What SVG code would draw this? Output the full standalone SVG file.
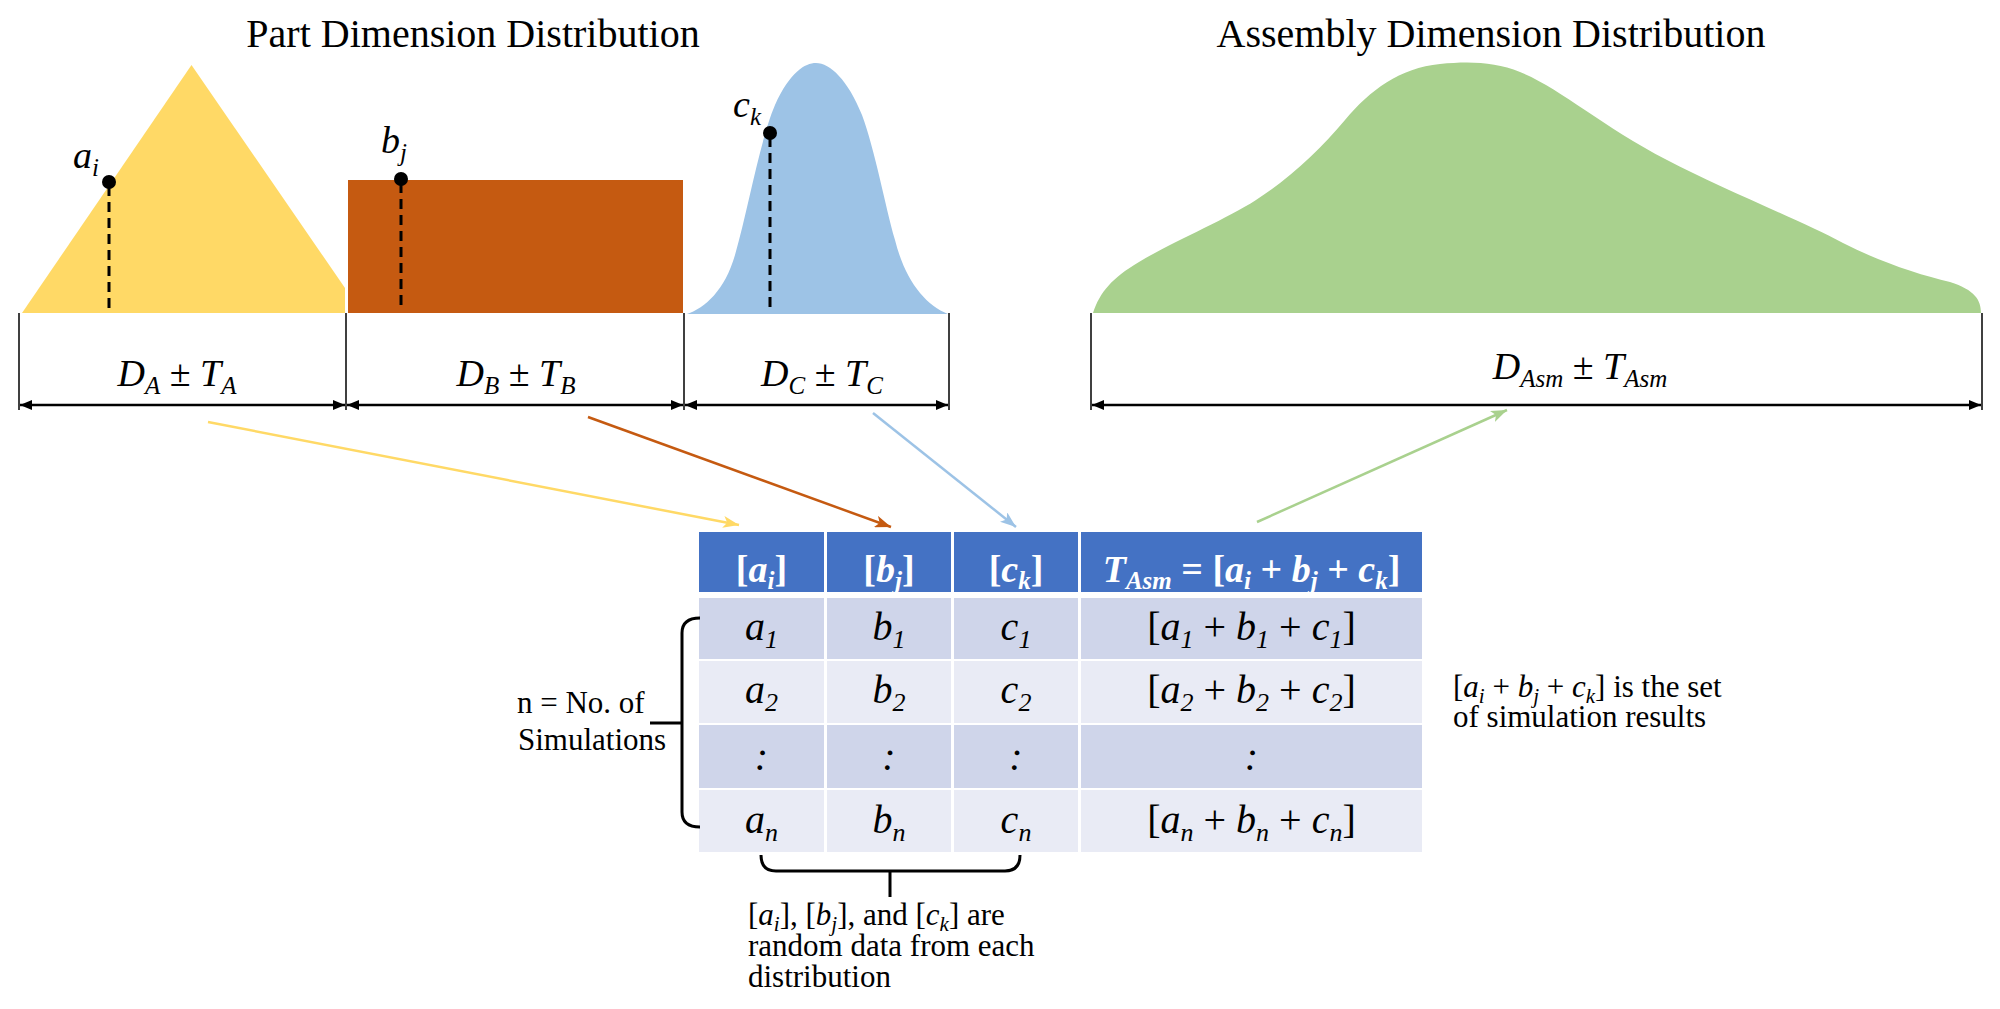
<svg xmlns="http://www.w3.org/2000/svg" width="2000" height="1009" viewBox="0 0 2000 1009">
<style>
text{font-family:"Liberation Serif","Times New Roman",serif;fill:#000}
.title{font-size:40px}
.i{font-style:italic}
.lbl{font-size:38px}
.sub{font-size:25px}
.hd{font-size:38px;font-weight:bold;fill:#fff}
.hd tspan{fill:#fff}
.bd{font-size:40px;font-style:italic}
.bd .sb{font-size:26px}
.note{font-size:31px}
.note .sb{font-size:21px}
.dash{stroke:#000;stroke-width:3;stroke-dasharray:10 6;fill:none}
.tick{stroke:#000;stroke-width:1.5}
.dim{stroke:#000;stroke-width:2.5;marker-start:url(#dimArrow);marker-end:url(#dimArrow)}
.brace{stroke:#000;stroke-width:3;fill:none}
.hcell{fill:#4472C4}
.c1{fill:#CFD5EA}
.c2{fill:#E9EBF5}
.conn{stroke-width:2.5;fill:none}
</style>
<defs>
<marker id="dimArrow" markerUnits="userSpaceOnUse" markerWidth="13" markerHeight="10" refX="12" refY="5" orient="auto-start-reverse"><path d="M0,0 L12,5 L0,10 z" fill="#000"/></marker>
<marker id="arY" markerUnits="userSpaceOnUse" markerWidth="18" markerHeight="12" refX="16" refY="6" orient="auto"><path d="M0,0 L16,6 L0,12 L4,6 z" fill="#FFD966"/></marker>
<marker id="arO" markerUnits="userSpaceOnUse" markerWidth="18" markerHeight="12" refX="16" refY="6" orient="auto"><path d="M0,0 L16,6 L0,12 L4,6 z" fill="#C55A11"/></marker>
<marker id="arB" markerUnits="userSpaceOnUse" markerWidth="18" markerHeight="12" refX="16" refY="6" orient="auto"><path d="M0,0 L16,6 L0,12 L4,6 z" fill="#9DC3E6"/></marker>
<marker id="arG" markerUnits="userSpaceOnUse" markerWidth="18" markerHeight="12" refX="16" refY="6" orient="auto"><path d="M0,0 L16,6 L0,12 L4,6 z" fill="#A9D18E"/></marker>
</defs>

<g id="title-part"><text class="title" x="473" y="47" text-anchor="middle">Part Dimension Distribution</text></g>
<g id="title-asm"><text class="title" x="1491" y="47" text-anchor="middle">Assembly Dimension Distribution</text></g>

<g id="dist-a">
<polygon points="22,313 191.5,65 345,288 345,313" fill="#FFD966"/>
<line class="dash" x1="109" y1="186" x2="109" y2="310"/>
<circle cx="109" cy="182" r="7"/>
<text class="lbl i" x="73" y="168">a<tspan class="sub" dy="8">i</tspan></text>
</g>

<g id="dist-b">
<rect x="348" y="180" width="335" height="133" fill="#C55A11"/>
<line class="dash" x1="401" y1="183" x2="401" y2="307"/>
<circle cx="401" cy="179" r="7"/>
<text class="lbl i" x="381" y="153">b<tspan class="sub" dy="8">j</tspan></text>
</g>

<g id="dist-c">
<path d="M687,314 C705,308 725,290 735,255 C748,210 760,140 775,105 C790,72 805,63 816,63 C830,63 848,80 862,115 C875,150 885,205 895,240 C905,280 925,305 948,314 Z" fill="#9DC3E6"/>
<line class="dash" x1="770" y1="137" x2="770" y2="309"/>
<circle cx="770" cy="133" r="7"/>
<text class="lbl i" x="733" y="117">c<tspan class="sub" dy="8">k</tspan></text>
</g>

<g id="dist-asm">
<path d="M1093,313 C1100,292 1112,278 1139,262 C1170,243 1225,220 1256,200 C1290,178 1320,150 1345,120 C1370,90 1400,68 1440,64 C1470,61 1495,62 1520,72 C1560,88 1600,125 1667,160 C1720,188 1800,220 1843,243 C1880,262 1920,275 1950,282 C1975,290 1981,300 1981,313 Z" fill="#A9D18E"/>
</g>

<g id="dimensions">
<line class="tick" x1="19" y1="313" x2="19" y2="410"/>
<line class="tick" x1="346" y1="313" x2="346" y2="410"/>
<line class="tick" x1="684" y1="313" x2="684" y2="410"/>
<line class="tick" x1="949" y1="313" x2="949" y2="410"/>
<line class="tick" x1="1091" y1="313" x2="1091" y2="410"/>
<line class="tick" x1="1982" y1="313" x2="1982" y2="410"/>
<line class="dim" x1="20" y1="405" x2="345" y2="405"/>
<line class="dim" x1="347" y1="405" x2="683" y2="405"/>
<line class="dim" x1="685" y1="405" x2="948" y2="405"/>
<line class="dim" x1="1092" y1="405" x2="1981" y2="405"/>
<text class="lbl" x="177" y="386" text-anchor="middle"><tspan class="i">D</tspan><tspan class="i sub" dy="8">A</tspan><tspan dy="-8"> ± </tspan><tspan class="i">T</tspan><tspan class="i sub" dy="8">A</tspan></text>
<text class="lbl" x="516" y="386" text-anchor="middle"><tspan class="i">D</tspan><tspan class="i sub" dy="8">B</tspan><tspan dy="-8"> ± </tspan><tspan class="i">T</tspan><tspan class="i sub" dy="8">B</tspan></text>
<text class="lbl" x="822" y="386" text-anchor="middle"><tspan class="i">D</tspan><tspan class="i sub" dy="8">C</tspan><tspan dy="-8"> ± </tspan><tspan class="i">T</tspan><tspan class="i sub" dy="8">C</tspan></text>
<text class="lbl" x="1580" y="379" text-anchor="middle"><tspan class="i">D</tspan><tspan class="i sub" dy="8">Asm</tspan><tspan dy="-8"> ± </tspan><tspan class="i">T</tspan><tspan class="i sub" dy="8">Asm</tspan></text>
</g>

<g id="connectors">
<line class="conn" stroke="#FFD966" x1="208" y1="422" x2="739" y2="525" marker-end="url(#arY)"/>
<line class="conn" stroke="#C55A11" x1="588" y1="417" x2="891" y2="527" marker-end="url(#arO)"/>
<line class="conn" stroke="#9DC3E6" x1="873" y1="413" x2="1016" y2="527" marker-end="url(#arB)"/>
<line class="conn" stroke="#A9D18E" x1="1257" y1="522" x2="1507" y2="410" marker-end="url(#arG)"/>
</g>

<g id="table">
<rect class="hcell" x="699" y="532" width="125" height="60"/>
<rect class="hcell" x="827" y="532" width="124" height="60"/>
<rect class="hcell" x="954" y="532" width="124" height="60"/>
<rect class="hcell" x="1081" y="532" width="341" height="60"/>
<rect class="c1" x="699" y="598" width="125" height="61"/>
<rect class="c1" x="827" y="598" width="124" height="61"/>
<rect class="c1" x="954" y="598" width="124" height="61"/>
<rect class="c1" x="1081" y="598" width="341" height="61"/>
<rect class="c2" x="699" y="661" width="125" height="62"/>
<rect class="c2" x="827" y="661" width="124" height="62"/>
<rect class="c2" x="954" y="661" width="124" height="62"/>
<rect class="c2" x="1081" y="661" width="341" height="62"/>
<rect class="c1" x="699" y="725" width="125" height="63"/>
<rect class="c1" x="827" y="725" width="124" height="63"/>
<rect class="c1" x="954" y="725" width="124" height="63"/>
<rect class="c1" x="1081" y="725" width="341" height="63"/>
<rect class="c2" x="699" y="790" width="125" height="62"/>
<rect class="c2" x="827" y="790" width="124" height="62"/>
<rect class="c2" x="954" y="790" width="124" height="62"/>
<rect class="c2" x="1081" y="790" width="341" height="62"/>

<text class="hd" x="761.5" y="582" text-anchor="middle">[<tspan class="i">a</tspan><tspan class="i sub" dy="7">i</tspan><tspan dy="-7">]</tspan></text>
<text class="hd" x="889" y="582" text-anchor="middle">[<tspan class="i">b</tspan><tspan class="i sub" dy="7">j</tspan><tspan dy="-7">]</tspan></text>
<text class="hd" x="1016" y="582" text-anchor="middle">[<tspan class="i">c</tspan><tspan class="i sub" dy="7">k</tspan><tspan dy="-7">]</tspan></text>
<text class="hd" x="1251.5" y="582" text-anchor="middle"><tspan class="i">T</tspan><tspan class="i sub" dy="7">Asm</tspan><tspan dy="-7"> = [</tspan><tspan class="i">a</tspan><tspan class="i sub" dy="7">i</tspan><tspan dy="-7"> + </tspan><tspan class="i">b</tspan><tspan class="i sub" dy="7">j</tspan><tspan dy="-7"> + </tspan><tspan class="i">c</tspan><tspan class="i sub" dy="7">k</tspan><tspan dy="-7">]</tspan></text>

<text class="bd" x="761.5" y="640" text-anchor="middle">a<tspan class="sb" dy="8">1</tspan></text>
<text class="bd" x="889" y="640" text-anchor="middle">b<tspan class="sb" dy="8">1</tspan></text>
<text class="bd" x="1016" y="640" text-anchor="middle">c<tspan class="sb" dy="8">1</tspan></text>
<text class="bd" x="1251.5" y="640" text-anchor="middle"><tspan font-style="normal">[</tspan>a<tspan class="sb" dy="8">1</tspan><tspan dy="-8" font-style="normal"> + </tspan>b<tspan class="sb" dy="8">1</tspan><tspan dy="-8" font-style="normal"> + </tspan>c<tspan class="sb" dy="8">1</tspan><tspan dy="-8" font-style="normal">]</tspan></text>

<text class="bd" x="761.5" y="703" text-anchor="middle">a<tspan class="sb" dy="8">2</tspan></text>
<text class="bd" x="889" y="703" text-anchor="middle">b<tspan class="sb" dy="8">2</tspan></text>
<text class="bd" x="1016" y="703" text-anchor="middle">c<tspan class="sb" dy="8">2</tspan></text>
<text class="bd" x="1251.5" y="703" text-anchor="middle"><tspan font-style="normal">[</tspan>a<tspan class="sb" dy="8">2</tspan><tspan dy="-8" font-style="normal"> + </tspan>b<tspan class="sb" dy="8">2</tspan><tspan dy="-8" font-style="normal"> + </tspan>c<tspan class="sb" dy="8">2</tspan><tspan dy="-8" font-style="normal">]</tspan></text>

<text class="bd" x="761.5" y="770" text-anchor="middle" font-style="normal">:</text>
<text class="bd" x="889" y="770" text-anchor="middle" font-style="normal">:</text>
<text class="bd" x="1016" y="770" text-anchor="middle" font-style="normal">:</text>
<text class="bd" x="1251.5" y="770" text-anchor="middle" font-style="normal">:</text>

<text class="bd" x="761.5" y="833" text-anchor="middle">a<tspan class="sb" dy="8">n</tspan></text>
<text class="bd" x="889" y="833" text-anchor="middle">b<tspan class="sb" dy="8">n</tspan></text>
<text class="bd" x="1016" y="833" text-anchor="middle">c<tspan class="sb" dy="8">n</tspan></text>
<text class="bd" x="1251.5" y="833" text-anchor="middle"><tspan font-style="normal">[</tspan>a<tspan class="sb" dy="8">n</tspan><tspan dy="-8" font-style="normal"> + </tspan>b<tspan class="sb" dy="8">n</tspan><tspan dy="-8" font-style="normal"> + </tspan>c<tspan class="sb" dy="8">n</tspan><tspan dy="-8" font-style="normal">]</tspan></text>
</g>

<g id="note-simulations">
<path class="brace" d="M700,618 Q682,618 682,633 L682,812 Q682,827 700,827 M650,723 L682,723"/>
<text class="note" x="517" y="713">n = No. of</text>
<text class="note" x="518" y="750">Simulations</text>
</g>

<g id="note-results">
<text class="note" x="1453" y="697">[<tspan class="i">a</tspan><tspan class="i sb" dy="6">i</tspan><tspan dy="-6"> + </tspan><tspan class="i">b</tspan><tspan class="i sb" dy="6">j</tspan><tspan dy="-6"> + </tspan><tspan class="i">c</tspan><tspan class="i sb" dy="6">k</tspan><tspan dy="-6">] is the set</tspan></text>
<text class="note" x="1453" y="727">of simulation results</text>
</g>

<g id="note-random">
<path class="brace" d="M761,855 Q761,871 776,871 L1005,871 Q1020,871 1020,855 M890,871 L890,897"/>
<text class="note" x="748" y="925">[<tspan class="i">a</tspan><tspan class="i sb" dy="6">i</tspan><tspan dy="-6">], [</tspan><tspan class="i">b</tspan><tspan class="i sb" dy="6">j</tspan><tspan dy="-6">], and [</tspan><tspan class="i">c</tspan><tspan class="i sb" dy="6">k</tspan><tspan dy="-6">] are</tspan></text>
<text class="note" x="748" y="956">random data from each</text>
<text class="note" x="748" y="987">distribution</text>
</g>
</svg>
